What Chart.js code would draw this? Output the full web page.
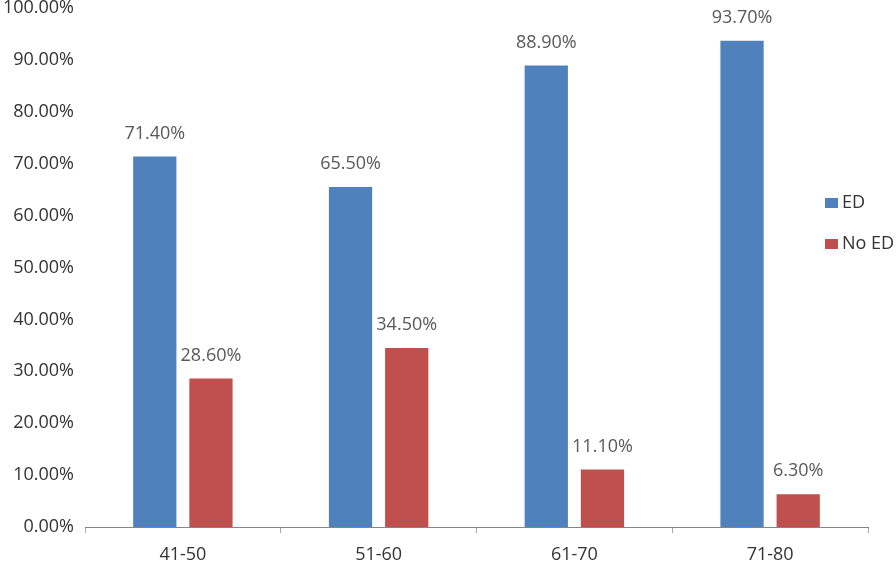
<!DOCTYPE html>
<html>
<head>
<meta charset="utf-8">
<script src="https://cdn.jsdelivr.net/npm/chart.js@4.4.1/dist/chart.umd.min.js"></script>
<style>
  html, body { margin: 0; padding: 0; background: #fff; }
  #wrap { width: 896px; height: 564px; position: relative; }
</style>
</head>
<body>
<div id="wrap"><canvas id="chart"></canvas></div>
<script>
// age groups and share (%) with / without ED
const categories = ["41-50", "51-60", "61-70", "71-80"];
const edValues = [71.4, 65.5, 88.9, 93.7];
const noEdValues = [28.6, 34.5, 11.1, 6.3];
const seriesNames = ["ED", "No ED"];

const FONT = "'Open Sans', 'Noto Sans', sans-serif";

// value labels above each bar
const barLabels = {
  id: "barLabels",
  afterDatasetsDraw(chart) {
    const ctx = chart.ctx;
    ctx.save();
    ctx.font = "18px " + FONT;
    ctx.fillStyle = "#595959";
    ctx.textAlign = "center";
    ctx.textBaseline = "middle";
    chart.data.datasets.forEach((ds, i) => {
      chart.getDatasetMeta(i).data.forEach((bar, j) => {
        ctx.fillText(ds.data[j].toFixed(2) + "%", bar.x, bar.y - 23);
      });
    });
    ctx.restore();
  }
};

// legend drawn on the right, over the end of the plot area
const sideLegend = {
  id: "sideLegend",
  afterDraw(chart) {
    const ctx = chart.ctx;
    ctx.save();
    ctx.font = "18px " + FONT;
    ctx.textBaseline = "middle";
    chart.data.datasets.forEach((ds, i) => {
      const y = 203 + i * 41;
      ctx.fillStyle = ds.backgroundColor;
      ctx.fillRect(825, y - 5, 13, 10);
      ctx.fillStyle = "#333";
      ctx.fillText(ds.label, 842, y);
    });
    ctx.restore();
  }
};

new Chart(document.getElementById("chart"), {
  type: "bar",
  data: {
    labels: categories,
    datasets: [
      { label: seriesNames[0], data: edValues, backgroundColor: "#4F81BD" },
      { label: seriesNames[1], data: noEdValues, backgroundColor: "#C0504D" }
    ]
  },
  options: {
    responsive: true,
    maintainAspectRatio: false,
    animation: false,
    categoryPercentage: 0.574,
    barPercentage: 0.77,
    layout: { padding: { top: 8, right: 28, left: 0, bottom: 0 } },
    plugins: { legend: { display: false }, tooltip: { enabled: false } },
    scales: {
      x: {
        grid: { display: true, offset: true, drawOnChartArea: false, drawTicks: true, tickLength: 6, color: "#A6A6A6" },
        border: { display: true, color: "#868686", width: 1 },
        ticks: { color: "#333", font: { family: FONT, size: 18 }, padding: 11 },
        afterFit(scale) { scale.height = 37; scale.paddingLeft = 0; scale.paddingRight = 0; }
      },
      y: {
        min: 0,
        max: 100,
        grid: { display: false },
        border: { display: false },
        ticks: {
          stepSize: 10,
          color: "#333",
          font: { family: FONT, size: 18 },
          padding: 3,
          callback: v => v.toFixed(2) + "%"
        },
        afterFit(scale) { scale.width = 85; scale.paddingTop = 0; scale.paddingBottom = 0; }
      }
    }
  },
  plugins: [barLabels, sideLegend]
});
</script>
</body>
</html>
